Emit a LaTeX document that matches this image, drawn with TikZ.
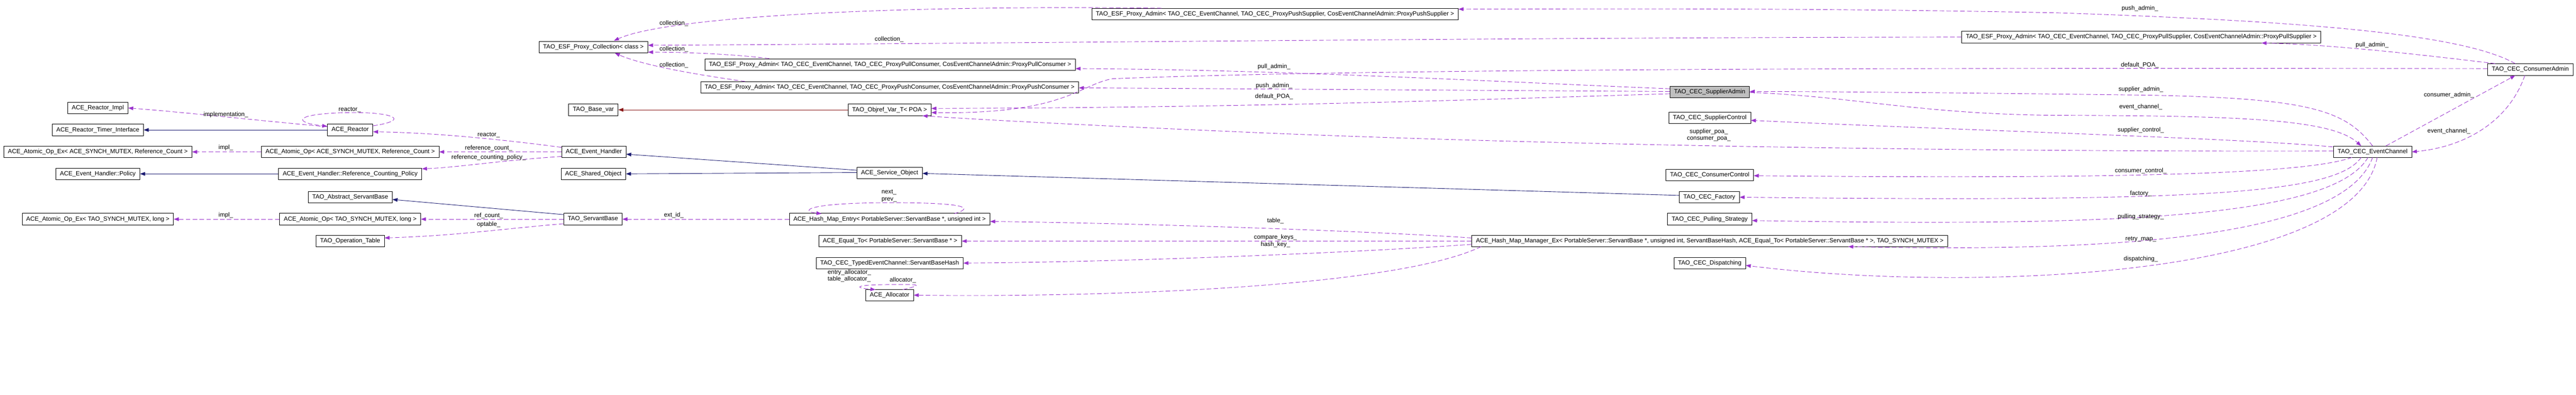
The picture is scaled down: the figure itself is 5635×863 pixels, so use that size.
\documentclass[tikz,border=0pt]{standalone}
\usepackage{fontspec}
\setmainfont{Liberation Sans}
\usetikzlibrary{arrows.meta}
\definecolor{usecol}{HTML}{9A32CD}
\definecolor{inhcol}{HTML}{191970}
\definecolor{privcol}{HTML}{8B1A1A}
\tikzset{%
  t/.style = {rectangle,draw,solid,line width=1pt,minimum height=25pt,
        inner xsep=9pt,inner ysep=0pt,font=\fontsize{13.3}{15}\selectfont},
  s/.style = {t,fill=gray!50},
  lbl/.style = {inner sep=0pt,font=\fontsize{13.3}{15}\selectfont},
  usearrow/.style = {-{Triangle[length=11pt,width=8pt]},usecol,
        dash pattern=on 10pt off 5pt,line width=1pt},
  inharrow/.style = {-{Triangle[length=11pt,width=8pt]},inhcol,solid,
        line width=1pt},
  privarrow/.style = {inharrow,privcol}
}

\begin{document}
\begin{tikzpicture}[x=1pt,y=-1pt]
    \useasboundingbox (0,0) rectangle (5635,863);
    % column 1
    \node[t] (impl) at (214,236) {ACE\_Reactor\_Impl};
    \node[t] (timer) at (214,284) {ACE\_Reactor\_Timer\_Interface};
    \node[t] (opexa) at (214,332) {ACE\_Atomic\_Op\_Ex< ACE\_SYNCH\_MUTEX, Reference\_Count >};
    \node[t] (policy) at (214,380) {ACE\_Event\_Handler::Policy};
    \node[t] (opext) at (214,479) {ACE\_Atomic\_Op\_Ex< TAO\_SYNCH\_MUTEX, long >};
    % column 2
    \node[t] (reactor) at (766,284) {ACE\_Reactor};
    \node[t] (opa) at (766,332) {ACE\_Atomic\_Op< ACE\_SYNCH\_MUTEX, Reference\_Count >};
    \node[t] (rcpol) at (766,380) {ACE\_Event\_Handler::Reference\_Counting\_Policy};
    \node[t] (absb) at (766,431) {TAO\_Abstract\_ServantBase};
    \node[t] (opt) at (766,479) {ACE\_Atomic\_Op< TAO\_SYNCH\_MUTEX, long >};
    \node[t] (optab) at (766,527) {TAO\_Operation\_Table};
    % column 3
    \node[t] (coll) at (1298,103) {TAO\_ESF\_Proxy\_Collection< class >};
    \node[t] (basevar) at (1298,240) {TAO\_Base\_var};
    \node[t] (eh) at (1299,332) {ACE\_Event\_Handler};
    \node[t] (so) at (1298,380) {ACE\_Shared\_Object};
    \node[t] (sb) at (1297,479) {TAO\_ServantBase};
    % column 4
    \node[t] (pullcons) at (1947,141) {TAO\_ESF\_Proxy\_Admin< TAO\_CEC\_EventChannel, TAO\_CEC\_ProxyPullConsumer, CosEventChannelAdmin::ProxyPullConsumer >};
    \node[t] (pushcons) at (1946,191) {TAO\_ESF\_Proxy\_Admin< TAO\_CEC\_EventChannel, TAO\_CEC\_ProxyPushConsumer, CosEventChannelAdmin::ProxyPushConsumer >};
    \node[t] (objref) at (1946,240) {TAO\_Objref\_Var\_T< POA >};
    \node[t] (svc) at (1946,378) {ACE\_Service\_Object};
    \node[t] (entry) at (1946,479) {ACE\_Hash\_Map\_Entry< PortableServer::ServantBase *, unsigned int >};
    \node[t] (equal) at (1947,527) {ACE\_Equal\_To< PortableServer::ServantBase * >};
    \node[t] (hash) at (1946,575) {TAO\_CEC\_TypedEventChannel::ServantBaseHash};
    \node[t] (alloc) at (1946,645) {ACE\_Allocator};
    % column 5
    \node[t] (pushsup) at (2789,31) {TAO\_ESF\_Proxy\_Admin< TAO\_CEC\_EventChannel, TAO\_CEC\_ProxyPushSupplier, CosEventChannelAdmin::ProxyPushSupplier >};
    % column 6
    \node[s] (sadmin) at (3740,201) {TAO\_CEC\_SupplierAdmin};
    \node[t] (sctrl) at (3740,257) {TAO\_CEC\_SupplierControl};
    \node[t] (cctrl) at (3740,383) {TAO\_CEC\_ConsumerControl};
    \node[t] (factory) at (3739,431) {TAO\_CEC\_Factory};
    \node[t] (pulling) at (3740,479) {TAO\_CEC\_Pulling\_Strategy};
    \node[t] (mgr) at (3740,527) {ACE\_Hash\_Map\_Manager\_Ex< PortableServer::ServantBase *, unsigned int, ServantBaseHash, ACE\_Equal\_To< PortableServer::ServantBase * >, TAO\_SYNCH\_MUTEX >};
    \node[t] (disp) at (3740,575) {TAO\_CEC\_Dispatching};
    % right side
    \node[t] (pullsup) at (4684,81) {TAO\_ESF\_Proxy\_Admin< TAO\_CEC\_EventChannel, TAO\_CEC\_ProxyPullSupplier, CosEventChannelAdmin::ProxyPullSupplier >};
    \node[t] (ec) at (5190,332) {TAO\_CEC\_EventChannel};
    \node[t] (cadmin) at (5535,152) {TAO\_CEC\_ConsumerAdmin};

    % inheritance
    \draw[inharrow] (reactor.west |- 0,284) -- (timer.east |- 0,284);
    \draw[inharrow] (rcpol.west) -- (policy.east);
    \draw[inharrow] (svc.west |- 0,372) -- (eh.east |- 0,337);
    \draw[inharrow] (svc.west |- 0,377) -- (so.east |- 0,380);
    \draw[inharrow] (sb.west |- 0,469) -- (absb.east |- 0,436);
    \draw[inharrow] (factory.west |- 0,427) -- (svc.east |- 0,379);
    \draw[privarrow] (objref.west) -- (basevar.east);

    % ACE side
    \draw[usearrow] (reactor.west |- 0,277) .. controls (550,262) and (400,245) .. (impl.east |- 0,236);
    \draw[usearrow] (reactor.east |- 0,275) .. controls (900,262) and (860,245) .. (765,246)
        .. controls (640,248) and (640,268) .. (reactor.west |- 0,276);
    \draw[usearrow] (opa.west) -- (opexa.east);
    \draw[usearrow] (eh.west |- 0,322) .. controls (1100,305) and (950,290) .. (reactor.east |- 0,288);
    \draw[usearrow] (eh.west) -- (opa.east);
    \draw[usearrow] (eh.west |- 0,342) .. controls (1100,350) and (1000,366) .. (rcpol.east |- 0,369);
    \draw[usearrow] (opt.west) -- (opext.east);
    \draw[usearrow] (sb.west) -- (opt.east);
    \draw[usearrow] (sb.west |- 0,489) .. controls (1100,500) and (1000,515) .. (optab.east |- 0,520);
    \draw[usearrow] (entry.west) -- (sb.east);
    \draw[usearrow] (2087,467) .. controls (2130,455) and (2120,443) .. (1950,443)
        .. controls (1760,443) and (1750,462) .. (1797,467);

    % collections
    \draw[usearrow] (2541,18) .. controls (1900,10) and (1450,40) .. (1343,89);
    \draw[usearrow] (pullsup.west) .. controls (3300,82) and (2200,95) .. (coll.east |- 0,99);
    \draw[usearrow] (1683,128) .. controls (1600,118) and (1500,114) .. (coll.east |- 0,114);
    \draw[usearrow] (1630,178) .. controls (1500,160) and (1400,140) .. (1345,116);

    % supplier admin
    \draw[usearrow] (sadmin.west |- 0,194) .. controls (3300,180) and (2800,152) .. (pullcons.east |- 0,150);
    \draw[usearrow] (sadmin.west |- 0,200) -- (pushcons.east |- 0,192);
    \draw[usearrow] (sadmin.west |- 0,205) .. controls (3300,215) and (2800,235) .. (objref.east |- 0,237);
    \draw[usearrow] (ec.north |- 0,319) .. controls (5130,240) and (5050,215) .. (4700,208)
        .. controls (4300,203) and (4000,200) .. (sadmin.east |- 0,200);
    \draw[usearrow] (sadmin.east |- 0,202) .. controls (4050,210) and (4200,250) .. (4500,252)
        .. controls (4900,253) and (5100,260) .. (5165,319);

    % consumer admin
    \draw[usearrow] (5502,139) .. controls (5380,70) and (5000,45) .. (4500,28)
        .. controls (4000,18) and (3600,19) .. (pushsup.east |- 0,20);
    \draw[usearrow] (5458,139) .. controls (5300,120) and (5100,97) .. (4947,94);
    \draw[usearrow] (cadmin.west |- 0,150) .. controls (4200,148) and (3000,150) .. (2434,172)
        .. controls (2360,185) and (2330,250) .. (objref.east |- 0,246);
    \draw[usearrow] (5219,319) -- (5502,165);
    \draw[usearrow] (5523,165) .. controls (5490,260) and (5400,320) .. (ec.east |- 0,332);

    % event channel
    \draw[usearrow] (ec.west |- 0,330) .. controls (4400,332) and (3500,320) .. (2800,292)
        .. controls (2400,275) and (2150,262) .. (2018,253);
    \draw[usearrow] (5103,321) .. controls (4900,302) and (4300,285) .. (sctrl.east |- 0,263);
    \draw[usearrow] (5145,344) .. controls (5050,378) and (4700,392) .. (cctrl.east |- 0,384);
    \draw[usearrow] (5165,344) .. controls (5110,425) and (4800,442) .. (factory.east |- 0,431);
    \draw[usearrow] (5180,344) .. controls (5100,480) and (4600,495) .. (pulling.east |- 0,482);
    \draw[usearrow] (5190,344) .. controls (5120,540) and (4500,548) .. (4043,539);
    \draw[usearrow] (5200,344) .. controls (5150,610) and (4300,640) .. (disp.east |- 0,580);

    % hash map manager
    \draw[usearrow] (mgr.west |- 0,520) .. controls (3000,505) and (2500,488) .. (entry.east |- 0,484);
    \draw[usearrow] (mgr.west) -- (equal.east);
    \draw[usearrow] (mgr.west |- 0,534) .. controls (3000,550) and (2500,572) .. (hash.east);
    \draw[usearrow] (3240,539) .. controls (3050,630) and (2400,650) .. (alloc.east);
    \draw[usearrow] (1975,633) .. controls (2030,620) and (2000,622) .. (1946,622)
        .. controls (1880,622) and (1860,628) .. (1915,633);

    % labels
    \node[lbl] (limpl) at (494,251) {implementation\_};
    \node[lbl] (lreact) at (765,240) {reactor\_};
    \node[lbl] (limpla) at (494,323) {impl\_};
    \node[lbl] (lreactb) at (1069,295) {reactor\_};
    \node[lbl] (lrefc) at (1069,324) {reference\_count\_};
    \node[lbl] (lrefp) at (1069,344) {reference\_counting\_policy\_};
    \node[lbl] (limplb) at (494,471) {impl\_};
    \node[lbl] (lrefcb) at (1069,471) {ref\_count\_};
    \node[lbl] (lopt) at (1069,491) {optable\_};
    \node[lbl] (lext) at (1474,470) {ext\_id\_};
    \node[lbl,align=left] (lnext) at (1945,428) {next\_\\prev\_};
    \node[lbl] (lcola) at (1474,51) {collection\_};
    \node[lbl] (lcolb) at (1945,86) {collection\_};
    \node[lbl] (lcolc) at (1474,107) {collection\_};
    \node[lbl] (lcold) at (1474,142) {collection\_};
    \node[lbl] (lpulla) at (2787,146) {pull\_admin\_};
    \node[lbl] (lpusha) at (2787,188) {push\_admin\_};
    \node[lbl] (ldpoa) at (2787,211) {default\_POA\_};
    \node[lbl] (lpushb) at (4681,19) {push\_admin\_};
    \node[lbl] (ldpoab) at (4681,143) {default\_POA\_};
    \node[lbl] (lsadm) at (4683,196) {supplier\_admin\_};
    \node[lbl] (lecha) at (4683,234) {event\_channel\_};
    \node[lbl] (lpullb) at (5189,99) {pull\_admin\_};
    \node[lbl] (lcadm) at (5357,208) {consumer\_admin\_};
    \node[lbl] (lechb) at (5357,287) {event\_channel\_};
    \node[lbl,align=center] (lpoa) at (3738,295) {supplier\_poa\_\\consumer\_poa\_};
    \node[lbl] (lsctl) at (4683,285) {supplier\_control\_};
    \node[lbl] (lcctl) at (4683,374) {consumer\_control\_};
    \node[lbl] (lfac) at (4683,423) {factory\_};
    \node[lbl] (lpull) at (4683,474) {pulling\_strategy\_};
    \node[lbl] (lretry) at (4683,523) {retry\_map\_};
    \node[lbl] (ldisp) at (4683,566) {dispatching\_};
    \node[lbl] (ltable) at (2790,483) {table\_};
    \node[lbl] (lcmp) at (2790,519) {compare\_keys\_};
    \node[lbl] (lhk) at (2790,535) {hash\_key\_};
    \node[lbl,align=left] (lentry) at (1858,603) {entry\_allocator\_\\table\_allocator\_};
    \node[lbl] (lal) at (1975,612) {allocator\_};
\end{tikzpicture}
\end{document}
